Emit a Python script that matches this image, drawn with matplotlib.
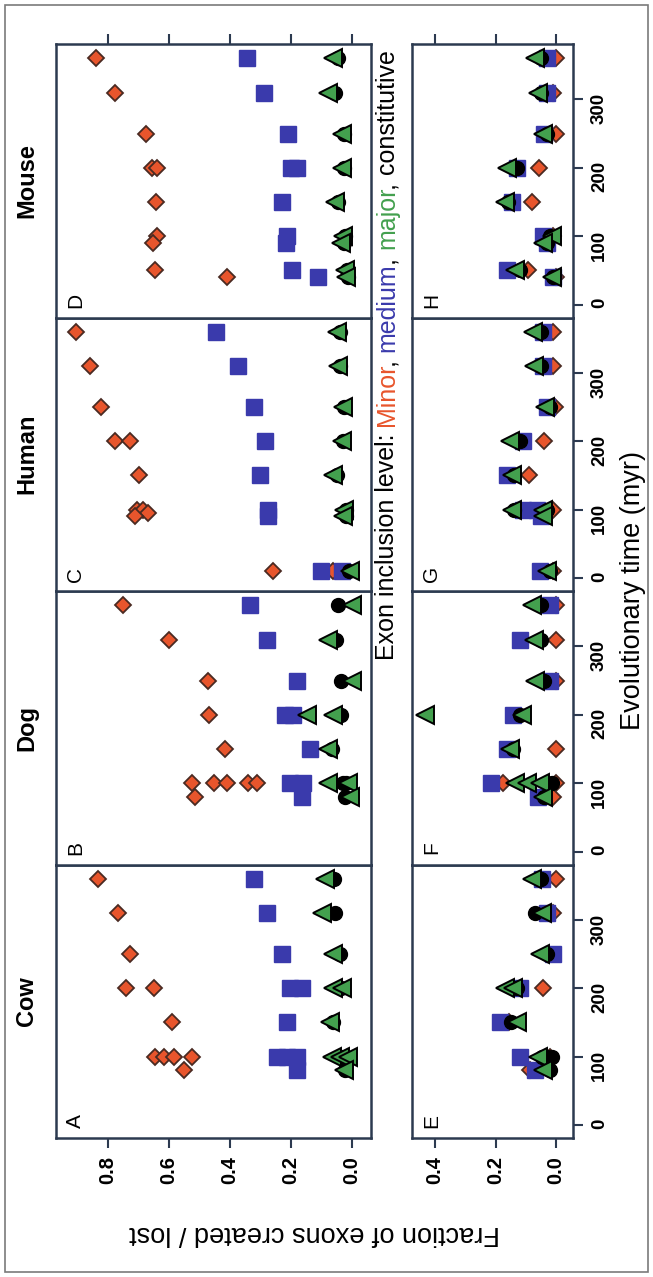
import matplotlib
matplotlib.use('Agg')
import matplotlib.pyplot as plt
from matplotlib.patches import Rectangle

plt.rcParams['font.family'] = ['Liberation Sans', 'DejaVu Sans']

W, H = 653, 1277

species = ['Cow', 'Dog', 'Human', 'Mouse']
letters_created = ['A', 'B', 'C', 'D']
letters_lost = ['E', 'F', 'G', 'H']
frac_ticks_created = [0.0, 0.2, 0.4, 0.6, 0.8]
frac_ticks_lost = [0.0, 0.2, 0.4]
time_ticks = [0, 100, 200, 300]

# (time in myr, fraction)
cow_created_minor = [(360, .833), (310, .767), (250, .728), (200, .741), (200, .649), (150, .590),
                     (100, .646), (100, .616), (100, .584), (100, .525), (80, .551)]
cow_created_medium = [(360, .321), (310, .279), (250, .230), (200, .203), (200, .164), (150, .213),
                      (100, .246), (100, .213), (100, .180), (80, .180)]
cow_created_major = [(360, .089), (310, .098), (250, .062), (200, .062), (200, .033), (150, .072),
                     (100, .066), (100, .040), (100, .013), (80, .026)]
cow_created_const = [(360, .060), (310, .055), (250, .040), (200, .035), (150, .062), (100, .035), (80, .022)]

dog_created_minor = [(360, .751), (310, .600), (250, .472), (200, .469), (150, .416), (100, .525),
                     (100, .452), (100, .410), (100, .341), (100, .311), (80, .515)]
dog_created_medium = [(360, .334), (310, .279), (250, .180), (200, .220), (200, .193), (150, .138),
                      (100, .203), (100, .161), (80, .164)]
dog_created_major = [(360, .0), (310, .079), (250, .0), (200, .148), (200, .062), (150, .079),
                     (100, .079), (100, .013), (80, .007)]
dog_created_const = [(360, .045), (310, .052), (250, .035), (200, .035), (150, .065), (100, .030),
                     (100, .020), (80, .023)]

human_created_minor = [(360, .905), (310, .859), (250, .823), (200, .777), (200, .728), (150, .698),
                       (100, .705), (100, .685), (95, .669), (90, .711), (10, .259), (10, .062)]
human_created_medium = [(360, .446), (310, .374), (250, .321), (200, .285), (150, .302), (100, .275),
                        (90, .275), (10, .102), (10, .033)]
human_created_major = [(360, .049), (310, .046), (250, .030), (200, .033), (150, .062), (100, .026),
                       (90, .030), (10, .007)]
human_created_const = [(360, .040), (310, .040), (250, .025), (200, .030), (150, .050), (100, .020),
                       (90, .020), (10, .010)]

mouse_created_minor = [(360, .839), (310, .777), (250, .675), (200, .656), (200, .639), (150, .643),
                       (100, .639), (90, .652), (50, .646), (40, .410)]
mouse_created_medium = [(360, .344), (310, .289), (250, .210), (200, .200), (200, .180), (150, .230),
                        (100, .213), (90, .216), (50, .197), (40, .111)]
mouse_created_major = [(360, .062), (310, .079), (250, .033), (200, .033), (150, .056), (100, .030),
                       (90, .036), (50, .023), (40, .020)]
mouse_created_const = [(360, .045), (310, .055), (250, .025), (200, .025), (150, .045), (100, .022),
                       (90, .025), (50, .015), (40, .012)]

cow_lost_minor = [(360, .0), (310, .010), (200, .043), (150, .155), (100, .020), (80, .086)]
cow_lost_medium = [(360, .046), (310, .030), (250, .010), (200, .119), (150, .185), (100, .119), (80, .069)]
cow_lost_major = [(360, .079), (310, .046), (250, .053), (200, .169), (200, .142), (150, .129),
                  (100, .060), (80, .043)]
cow_lost_const = [(360, .050), (310, .070), (250, .030), (200, .130), (150, .150), (100, .013),
                  (100, .030), (100, .045), (80, .020)]

dog_lost_minor = [(360, .0), (310, .0), (250, .0), (150, .0), (100, .175), (100, .0), (80, .010)]
dog_lost_medium = [(360, .020), (310, .119), (250, .020), (200, .142), (150, .162), (100, .215), (80, .060)]
dog_lost_major = [(360, .079), (310, .073), (250, .069), (200, .433), (200, .112), (150, .152),
                  (100, .136), (100, .096), (100, .053), (80, .043)]
dog_lost_const = [(360, .050), (310, .050), (250, .040), (200, .120), (150, .142), (100, .013),
                  (100, .030), (80, .040)]

human_lost_minor = [(360, .010), (310, .010), (250, .003), (200, .040), (150, .089), (100, .010), (10, .010)]
human_lost_medium = [(360, .043), (310, .043), (250, .030), (200, .109), (150, .162), (100, .109),
                     (100, .063), (90, .050), (10, .053)]
human_lost_major = [(360, .076), (310, .073), (250, .036), (200, .152), (150, .145), (100, .145),
                    (100, .043), (90, .043), (10, .030)]
human_lost_const = [(360, .050), (310, .050), (250, .020), (200, .120), (150, .140), (100, .140),
                    (100, .030), (10, .020)]

mouse_lost_minor = [(360, .0), (310, .010), (250, .0), (200, .056), (150, .079), (100, .010),
                    (50, .093), (40, .0)]
mouse_lost_medium = [(360, .030), (310, .030), (250, .040), (200, .129), (150, .145), (100, .043),
                     (90, .030), (50, .162), (40, .010)]
mouse_lost_major = [(360, .069), (310, .060), (250, .043), (200, .162), (150, .169), (100, .013),
                    (90, .043), (50, .136), (40, .013)]
mouse_lost_const = [(360, .050), (310, .050), (250, .030), (200, .130), (150, .159), (100, .020),
                    (90, .030), (50, .120), (40, .010)]

created = [
    (cow_created_minor, cow_created_medium, cow_created_const, cow_created_major),
    (dog_created_minor, dog_created_medium, dog_created_const, dog_created_major),
    (human_created_minor, human_created_medium, human_created_const, human_created_major),
    (mouse_created_minor, mouse_created_medium, mouse_created_const, mouse_created_major),
]
lost = [
    (cow_lost_minor, cow_lost_medium, cow_lost_const, cow_lost_major),
    (dog_lost_minor, dog_lost_medium, dog_lost_const, dog_lost_major),
    (human_lost_minor, human_lost_medium, human_lost_const, human_lost_major),
    (mouse_lost_minor, mouse_lost_medium, mouse_lost_const, mouse_lost_major),
]

RED = '#E8552C'
BLUE = '#3A3AAC'
GREEN = '#43A04E'
SPINE = '#2C3A50'

styles = [
    dict(marker='D', ms=8.2, mfc=RED, mec='#4A2A22', mew=1.3),          # minor
    dict(marker='s', ms=11, mfc=BLUE, mec=BLUE, mew=1.0),              # medium
    dict(marker='o', ms=10, mfc='black', mec='black', mew=1.0),        # constitutive
    dict(marker='<', ms=12.5, mfc=GREEN, mec='black', mew=1.4),        # major
]

fig = plt.figure(figsize=(W / 100, H / 100), dpi=100)
fig.patches.append(Rectangle((5 / W, 5 / H), 643 / W, 1267 / H, transform=fig.transFigure,
                             fill=False, edgecolor='#7A7A7A', lw=1.2))

col_px = [(56, 371), (412, 573)]
row_h = (1138 - 44) / 4.0


def px_axes(x0, x1, ytop, ybot):
    return fig.add_axes([x0 / W, 1 - ybot / H, (x1 - x0) / W, (ybot - ytop) / H])


def draw_panel(ax, series, xlim, letter):
    for pts, st in zip(series, styles):
        t = [p[0] for p in pts]
        f = [p[1] for p in pts]
        ax.plot(f, t, ls='none', clip_on=False, **st)
    ax.set_xlim(*xlim)
    ax.set_ylim(-19, 381)
    for sp in ax.spines.values():
        sp.set_color(SPINE)
        sp.set_linewidth(1.8)
    ax.tick_params(which='both', bottom=False, top=False, left=False, right=False,
                   labelbottom=False, labeltop=False, labelleft=False, labelright=False,
                   length=7, width=1.5, color=SPINE, pad=6)
    ax.annotate(letter, xy=(0, 0), xycoords='axes fraction', xytext=(14, 12),
                textcoords='offset points', rotation=90, ha='center', va='center', fontsize=15)


for i, name in enumerate(species):
    ybot = 1138 - i * row_h
    ytop = ybot - row_h
    ax1 = px_axes(col_px[0][0], col_px[0][1], ytop, ybot)
    draw_panel(ax1, created[i], (0.97, -0.062), letters_created[i])
    ax2 = px_axes(col_px[1][0], col_px[1][1], ytop, ybot)
    draw_panel(ax2, lost[i], (0.476, -0.056), letters_lost[i])

    ax1.set_xticks(frac_ticks_created)
    ax2.set_xticks(frac_ticks_lost)
    ax1.set_xticklabels(['%.1f' % v for v in frac_ticks_created])
    ax2.set_xticklabels(['%.1f' % v for v in frac_ticks_lost])
    ax2.set_yticks(time_ticks)
    ax2.tick_params(axis='y', right=True, labelright=True, labelrotation=90, labelsize=13.5)
    for lab in ax2.get_yticklabels():
        lab.set_fontweight('bold')
    if i == 0:
        for ax in (ax1, ax2):
            ax.tick_params(axis='x', bottom=True, labelbottom=True, labelrotation=90, labelsize=14.5)
            for lab in ax.get_xticklabels():
                lab.set_fontweight('bold')
    if i == 3:
        for ax in (ax1, ax2):
            ax.tick_params(axis='x', top=True)

    fig.text(27 / W, 1 - (ytop + ybot) / 2 / H, name, rotation=90, ha='center', va='center',
             fontsize=17, fontweight='bold')

fig.text(315 / W, 1 - 1233 / H, 'Fraction of exons created / lost', rotation=180,
         ha='center', va='center', fontsize=19.5)
fig.text(633 / W, 1 - 591 / H, 'Evolutionary time (myr)', rotation=90,
         ha='center', va='center', fontsize=19.5)

# multi-coloured inclusion-level line, placed piece by piece
full = 'Exon inclusion level: Minor, medium, major, constitutive'
pieces = [('Exon inclusion level:', 'black'), ('Minor', RED), (',', 'black'), ('medium', BLUE),
          (',', 'black'), ('major', GREEN), (',', 'black'), ('constitutive', 'black')]
renderer = fig.canvas.get_renderer()
fsize = 18


def text_w(s):
    t = fig.text(0, 0, s, fontsize=fsize)
    w = t.get_window_extent(renderer).width
    t.remove()
    return w


start = H - 660
pos = 0
for s, c in pieces:
    end = full.index(s, pos) + len(s)
    y = start + text_w(full[:end]) - text_w(s)
    fig.text(394 / W, y / H, s, color=c, rotation=90, rotation_mode='anchor',
             ha='left', va='baseline', fontsize=fsize)
    pos = end

fig.savefig('out.png', dpi=100)
